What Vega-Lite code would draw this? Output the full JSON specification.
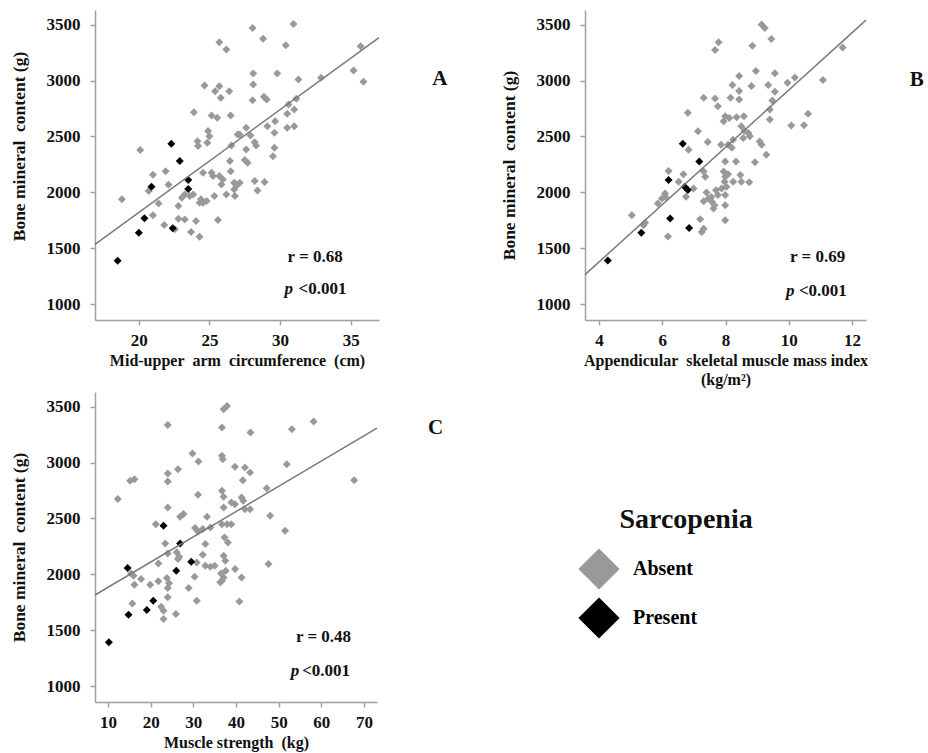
{
  "$schema": "https://vega.github.io/schema/vega-lite/v6.json",
  "padding": {"left": 10, "top": 10, "right": 0, "bottom": 5},
  "background": "white",
  "config": {
    "view": {"stroke": null},
    "font": "Liberation Serif",
    "axis": {"domainColor": "#a0a0a0", "tickColor": "#a0a0a0", "tickSize": 5, "grid": false, "domainWidth": 1.5, "tickWidth": 1.5,
      "labelFont": "Liberation Serif", "labelFontSize": 17, "labelFontWeight": "bold", "labelColor": "#111",
      "titleFont": "Liberation Serif", "titleFontSize": 16, "titleFontWeight": "bold", "titleColor": "#111", "format": "d"},
    "axisX": {"labelPadding": 7, "titlePadding": 4},
    "axisY": {"labelPadding": 10, "titlePadding": 18, "titleFontSize": 17.5},
    "point": {"shape": "diamond", "filled": true, "size": 64, "opacity": 1},
    "text": {"font": "Liberation Serif", "fontWeight": "bold", "fontSize": 17, "color": "#111", "baseline": "middle"}
  },
  "datasets": {
    "a": [
      {"x":18.8,"y":1938,"g":"Absent"},{"x":20.1,"y":2380,"g":"Absent"},{"x":20.7,"y":2012,"g":"Absent"},{"x":21.0,"y":2158,"g":"Absent"},{"x":21.0,"y":1795,"g":"Absent"},{"x":21.4,"y":1902,"g":"Absent"},{"x":21.8,"y":1708,"g":"Absent"},{"x":21.9,"y":2190,"g":"Absent"},{"x":22.1,"y":2068,"g":"Absent"},{"x":22.55,"y":1670,"g":"Absent"},{"x":22.8,"y":1878,"g":"Absent"},{"x":22.8,"y":1765,"g":"Absent"},{"x":23.25,"y":1759,"g":"Absent"},{"x":23.25,"y":1982,"g":"Absent"},{"x":23.05,"y":1952,"g":"Absent"},{"x":23.6,"y":1967,"g":"Absent"},{"x":23.85,"y":1982,"g":"Absent"},{"x":23.7,"y":1646,"g":"Absent"},{"x":23.9,"y":2717,"g":"Absent"},{"x":24.05,"y":1744,"g":"Absent"},{"x":24.15,"y":2458,"g":"Absent"},{"x":24.2,"y":2414,"g":"Absent"},{"x":24.3,"y":1604,"g":"Absent"},{"x":24.3,"y":1908,"g":"Absent"},{"x":24.4,"y":1938,"g":"Absent"},{"x":24.55,"y":1908,"g":"Absent"},{"x":24.55,"y":2176,"g":"Absent"},{"x":24.65,"y":2955,"g":"Absent"},{"x":24.8,"y":1923,"g":"Absent"},{"x":24.85,"y":2443,"g":"Absent"},{"x":24.9,"y":2548,"g":"Absent"},{"x":25.0,"y":2503,"g":"Absent"},{"x":25.15,"y":2688,"g":"Absent"},{"x":25.15,"y":2176,"g":"Absent"},{"x":25.25,"y":2146,"g":"Absent"},{"x":25.35,"y":1967,"g":"Absent"},{"x":25.4,"y":2905,"g":"Absent"},{"x":25.55,"y":2667,"g":"Absent"},{"x":25.6,"y":1753,"g":"Absent"},{"x":25.7,"y":3342,"g":"Absent"},{"x":25.7,"y":2949,"g":"Absent"},{"x":25.7,"y":2146,"g":"Absent"},{"x":25.8,"y":2845,"g":"Absent"},{"x":25.85,"y":2071,"g":"Absent"},{"x":25.95,"y":2116,"g":"Absent"},{"x":26.2,"y":3277,"g":"Absent"},{"x":26.2,"y":1982,"g":"Absent"},{"x":26.4,"y":2905,"g":"Absent"},{"x":26.45,"y":2280,"g":"Absent"},{"x":26.5,"y":2688,"g":"Absent"},{"x":26.5,"y":2190,"g":"Absent"},{"x":26.55,"y":2420,"g":"Absent"},{"x":26.75,"y":2086,"g":"Absent"},{"x":26.8,"y":1967,"g":"Absent"},{"x":26.9,"y":2057,"g":"Absent"},{"x":26.9,"y":2071,"g":"Absent"},{"x":26.75,"y":2027,"g":"Absent"},{"x":27.0,"y":2518,"g":"Absent"},{"x":27.15,"y":2086,"g":"Absent"},{"x":27.15,"y":2518,"g":"Absent"},{"x":27.5,"y":2289,"g":"Absent"},{"x":27.6,"y":2577,"g":"Absent"},{"x":27.6,"y":2384,"g":"Absent"},{"x":27.7,"y":2265,"g":"Absent"},{"x":27.9,"y":2509,"g":"Absent"},{"x":28.05,"y":3470,"g":"Absent"},{"x":28.1,"y":3063,"g":"Absent"},{"x":28.1,"y":2964,"g":"Absent"},{"x":28.05,"y":2824,"g":"Absent"},{"x":28.2,"y":2449,"g":"Absent"},{"x":28.2,"y":2101,"g":"Absent"},{"x":28.3,"y":2420,"g":"Absent"},{"x":28.4,"y":2018,"g":"Absent"},{"x":28.8,"y":3372,"g":"Absent"},{"x":28.85,"y":2854,"g":"Absent"},{"x":28.9,"y":2092,"g":"Absent"},{"x":29.05,"y":2830,"g":"Absent"},{"x":29.1,"y":2592,"g":"Absent"},{"x":29.5,"y":2324,"g":"Absent"},{"x":29.6,"y":2533,"g":"Absent"},{"x":29.6,"y":2399,"g":"Absent"},{"x":29.65,"y":2637,"g":"Absent"},{"x":29.8,"y":3063,"g":"Absent"},{"x":30.4,"y":3315,"g":"Absent"},{"x":30.5,"y":2702,"g":"Absent"},{"x":30.5,"y":2577,"g":"Absent"},{"x":30.6,"y":2786,"g":"Absent"},{"x":30.95,"y":3506,"g":"Absent"},{"x":31.0,"y":2741,"g":"Absent"},{"x":31.0,"y":2592,"g":"Absent"},{"x":31.15,"y":2836,"g":"Absent"},{"x":31.3,"y":3009,"g":"Absent"},{"x":32.9,"y":3024,"g":"Absent"},{"x":35.2,"y":3089,"g":"Absent"},{"x":35.7,"y":3307,"g":"Absent"},{"x":35.9,"y":2988,"g":"Absent"},
      {"x":18.5,"y":1390,"g":"Present"},{"x":20.0,"y":1640,"g":"Present"},{"x":20.4,"y":1770,"g":"Present"},{"x":20.9,"y":2050,"g":"Present"},{"x":22.3,"y":2435,"g":"Present"},{"x":22.4,"y":1680,"g":"Present"},{"x":22.9,"y":2280,"g":"Present"},{"x":23.5,"y":2110,"g":"Present"},{"x":23.5,"y":2030,"g":"Present"}
    ],
    "b": [
      {"x":5.04,"y":1796,"g":"Absent"},{"x":5.41,"y":1706,"g":"Absent"},{"x":5.46,"y":1730,"g":"Absent"},{"x":5.86,"y":1901,"g":"Absent"},{"x":5.99,"y":1946,"g":"Absent"},{"x":6.09,"y":1991,"g":"Absent"},{"x":6.1,"y":1960,"g":"Absent"},{"x":6.18,"y":1607,"g":"Absent"},{"x":6.2,"y":2192,"g":"Absent"},{"x":6.52,"y":2096,"g":"Absent"},{"x":6.67,"y":2162,"g":"Absent"},{"x":6.75,"y":1961,"g":"Absent"},{"x":6.81,"y":2711,"g":"Absent"},{"x":6.83,"y":2381,"g":"Absent"},{"x":6.99,"y":2036,"g":"Absent"},{"x":7.13,"y":2546,"g":"Absent"},{"x":7.2,"y":1760,"g":"Absent"},{"x":7.25,"y":1646,"g":"Absent"},{"x":7.31,"y":1676,"g":"Absent"},{"x":7.31,"y":2846,"g":"Absent"},{"x":7.31,"y":2186,"g":"Absent"},{"x":7.36,"y":2141,"g":"Absent"},{"x":7.31,"y":1922,"g":"Absent"},{"x":7.4,"y":2000,"g":"Absent"},{"x":7.44,"y":2450,"g":"Absent"},{"x":7.46,"y":1946,"g":"Absent"},{"x":7.55,"y":1960,"g":"Absent"},{"x":7.57,"y":1916,"g":"Absent"},{"x":7.62,"y":1856,"g":"Absent"},{"x":7.65,"y":1886,"g":"Absent"},{"x":7.67,"y":3272,"g":"Absent"},{"x":7.67,"y":2840,"g":"Absent"},{"x":7.7,"y":2020,"g":"Absent"},{"x":7.76,"y":2771,"g":"Absent"},{"x":7.76,"y":1976,"g":"Absent"},{"x":7.78,"y":3341,"g":"Absent"},{"x":7.86,"y":2426,"g":"Absent"},{"x":7.94,"y":2636,"g":"Absent"},{"x":7.94,"y":2186,"g":"Absent"},{"x":7.97,"y":2096,"g":"Absent"},{"x":7.99,"y":2681,"g":"Absent"},{"x":7.99,"y":2276,"g":"Absent"},{"x":7.99,"y":2141,"g":"Absent"},{"x":7.88,"y":2036,"g":"Absent"},{"x":7.99,"y":1886,"g":"Absent"},{"x":7.99,"y":1976,"g":"Absent"},{"x":7.99,"y":1751,"g":"Absent"},{"x":8.03,"y":2051,"g":"Absent"},{"x":8.08,"y":2162,"g":"Absent"},{"x":8.08,"y":2426,"g":"Absent"},{"x":8.12,"y":2666,"g":"Absent"},{"x":8.16,"y":2846,"g":"Absent"},{"x":8.2,"y":2400,"g":"Absent"},{"x":8.22,"y":2960,"g":"Absent"},{"x":8.24,"y":2471,"g":"Absent"},{"x":8.24,"y":2096,"g":"Absent"},{"x":8.33,"y":2276,"g":"Absent"},{"x":8.35,"y":2672,"g":"Absent"},{"x":8.43,"y":3041,"g":"Absent"},{"x":8.43,"y":2906,"g":"Absent"},{"x":8.43,"y":2831,"g":"Absent"},{"x":8.47,"y":2156,"g":"Absent"},{"x":8.5,"y":2591,"g":"Absent"},{"x":8.5,"y":2096,"g":"Absent"},{"x":8.56,"y":2486,"g":"Absent"},{"x":8.58,"y":2681,"g":"Absent"},{"x":8.6,"y":2550,"g":"Absent"},{"x":8.72,"y":2531,"g":"Absent"},{"x":8.75,"y":2090,"g":"Absent"},{"x":8.77,"y":2501,"g":"Absent"},{"x":8.82,"y":2951,"g":"Absent"},{"x":8.85,"y":3311,"g":"Absent"},{"x":8.93,"y":2270,"g":"Absent"},{"x":8.96,"y":3086,"g":"Absent"},{"x":9.08,"y":2456,"g":"Absent"},{"x":9.14,"y":2426,"g":"Absent"},{"x":9.14,"y":3500,"g":"Absent"},{"x":9.24,"y":3470,"g":"Absent"},{"x":9.29,"y":2336,"g":"Absent"},{"x":9.35,"y":2960,"g":"Absent"},{"x":9.4,"y":2741,"g":"Absent"},{"x":9.4,"y":2651,"g":"Absent"},{"x":9.45,"y":3371,"g":"Absent"},{"x":9.48,"y":2822,"g":"Absent"},{"x":9.56,"y":3065,"g":"Absent"},{"x":9.56,"y":2900,"g":"Absent"},{"x":9.96,"y":2981,"g":"Absent"},{"x":10.08,"y":2597,"g":"Absent"},{"x":10.19,"y":3026,"g":"Absent"},{"x":10.48,"y":2600,"g":"Absent"},{"x":10.61,"y":2702,"g":"Absent"},{"x":11.08,"y":3005,"g":"Absent"},{"x":11.7,"y":3296,"g":"Absent"},
      {"x":4.28,"y":1391,"g":"Present"},{"x":5.34,"y":1640,"g":"Present"},{"x":6.2,"y":2111,"g":"Present"},{"x":6.25,"y":1766,"g":"Present"},{"x":6.65,"y":2435,"g":"Present"},{"x":6.85,"y":1682,"g":"Present"},{"x":7.17,"y":2276,"g":"Present"},{"x":6.71,"y":2051,"g":"Present"},{"x":6.81,"y":2021,"g":"Present"}
    ],
    "c": [
      {"x":12.3,"y":2673,"g":"Absent"},{"x":15.2,"y":2836,"g":"Absent"},{"x":16.2,"y":2851,"g":"Absent"},{"x":15.4,"y":2009,"g":"Absent"},{"x":16.0,"y":1988,"g":"Absent"},{"x":15.7,"y":1741,"g":"Absent"},{"x":16.2,"y":1908,"g":"Absent"},{"x":17.75,"y":1958,"g":"Absent"},{"x":19.9,"y":1908,"g":"Absent"},{"x":21.2,"y":2449,"g":"Absent"},{"x":21.8,"y":2098,"g":"Absent"},{"x":21.8,"y":1938,"g":"Absent"},{"x":22.45,"y":1711,"g":"Absent"},{"x":23.0,"y":1676,"g":"Absent"},{"x":23.0,"y":1601,"g":"Absent"},{"x":23.4,"y":2277,"g":"Absent"},{"x":23.8,"y":1967,"g":"Absent"},{"x":24.0,"y":3336,"g":"Absent"},{"x":24.0,"y":2902,"g":"Absent"},{"x":24.0,"y":2830,"g":"Absent"},{"x":24.0,"y":2598,"g":"Absent"},{"x":24.0,"y":2188,"g":"Absent"},{"x":24.3,"y":1920,"g":"Absent"},{"x":24.0,"y":1878,"g":"Absent"},{"x":24.0,"y":1795,"g":"Absent"},{"x":25.9,"y":1646,"g":"Absent"},{"x":26.1,"y":2197,"g":"Absent"},{"x":26.4,"y":2137,"g":"Absent"},{"x":26.7,"y":2158,"g":"Absent"},{"x":26.4,"y":2940,"g":"Absent"},{"x":26.9,"y":2515,"g":"Absent"},{"x":27.7,"y":2539,"g":"Absent"},{"x":28.9,"y":1878,"g":"Absent"},{"x":29.8,"y":3080,"g":"Absent"},{"x":30.3,"y":1979,"g":"Absent"},{"x":30.4,"y":2414,"g":"Absent"},{"x":30.8,"y":2107,"g":"Absent"},{"x":30.8,"y":1765,"g":"Absent"},{"x":31.1,"y":2384,"g":"Absent"},{"x":31.1,"y":2711,"g":"Absent"},{"x":31.2,"y":3009,"g":"Absent"},{"x":32.2,"y":2405,"g":"Absent"},{"x":32.2,"y":2176,"g":"Absent"},{"x":32.8,"y":2271,"g":"Absent"},{"x":32.8,"y":2077,"g":"Absent"},{"x":33.2,"y":2515,"g":"Absent"},{"x":34.0,"y":2420,"g":"Absent"},{"x":34.0,"y":2069,"g":"Absent"},{"x":35.0,"y":2077,"g":"Absent"},{"x":36.3,"y":1929,"g":"Absent"},{"x":36.5,"y":2009,"g":"Absent"},{"x":36.7,"y":1944,"g":"Absent"},{"x":36.7,"y":3312,"g":"Absent"},{"x":36.7,"y":3060,"g":"Absent"},{"x":36.9,"y":3030,"g":"Absent"},{"x":36.7,"y":2747,"g":"Absent"},{"x":36.7,"y":2449,"g":"Absent"},{"x":37.1,"y":2693,"g":"Absent"},{"x":37.1,"y":2598,"g":"Absent"},{"x":37.1,"y":3476,"g":"Absent"},{"x":37.1,"y":2167,"g":"Absent"},{"x":37.1,"y":1973,"g":"Absent"},{"x":37.3,"y":2330,"g":"Absent"},{"x":37.5,"y":2122,"g":"Absent"},{"x":37.6,"y":2033,"g":"Absent"},{"x":37.9,"y":3506,"g":"Absent"},{"x":37.9,"y":2449,"g":"Absent"},{"x":38.1,"y":2286,"g":"Absent"},{"x":38.9,"y":2643,"g":"Absent"},{"x":38.9,"y":2449,"g":"Absent"},{"x":39.75,"y":2961,"g":"Absent"},{"x":39.75,"y":2628,"g":"Absent"},{"x":39.8,"y":2048,"g":"Absent"},{"x":40.8,"y":1759,"g":"Absent"},{"x":41.3,"y":2688,"g":"Absent"},{"x":41.3,"y":1973,"g":"Absent"},{"x":41.6,"y":2842,"g":"Absent"},{"x":41.7,"y":2658,"g":"Absent"},{"x":42.1,"y":2955,"g":"Absent"},{"x":42.1,"y":2583,"g":"Absent"},{"x":43.3,"y":2911,"g":"Absent"},{"x":43.3,"y":2583,"g":"Absent"},{"x":43.4,"y":3268,"g":"Absent"},{"x":47.2,"y":2771,"g":"Absent"},{"x":47.6,"y":2092,"g":"Absent"},{"x":48.0,"y":2524,"g":"Absent"},{"x":51.5,"y":2390,"g":"Absent"},{"x":51.9,"y":2985,"g":"Absent"},{"x":53.1,"y":3298,"g":"Absent"},{"x":58.2,"y":3366,"g":"Absent"},{"x":67.7,"y":2842,"g":"Absent"},
      {"x":10.2,"y":1393,"g":"Present"},{"x":14.6,"y":2057,"g":"Present"},{"x":14.8,"y":1640,"g":"Present"},{"x":19.1,"y":1682,"g":"Present"},{"x":20.6,"y":1765,"g":"Present"},{"x":23.0,"y":2435,"g":"Present"},{"x":26.0,"y":2033,"g":"Present"},{"x":26.9,"y":2277,"g":"Present"},{"x":29.5,"y":2113,"g":"Present"}
    ],
    "la": [{"x":16.9,"y":1536},{"x":37.0,"y":3384}],
    "lb": [{"x":3.56,"y":1265},{"x":12.44,"y":3540}],
    "lc": [{"x":6.95,"y":1816},{"x":73.05,"y":3307}],
    "one": [{}]
  },
  "concat": [
    {
      "width": 284, "height": 310,
      "layer": [
        {"data": {"name": "a"}, "mark": "point",
         "encoding": {
           "x": {"field": "x", "type": "quantitative", "scale": {"domain": [16.9, 37], "nice": false, "zero": false}, "axis": {"values": [20, 25, 30, 35], "title": "Mid-upper\u00a0 arm\u00a0 circumference\u00a0 (cm)"}},
           "y": {"field": "y", "type": "quantitative", "scale": {"domain": [860, 3630], "nice": false, "zero": false}, "axis": {"values": [1000, 1500, 2000, 2500, 3000, 3500], "title": "Bone mineral\u00a0 content (g)", "titleY": 136}},
           "color": {"field": "g", "type": "nominal", "scale": {"domain": ["Absent", "Present"], "range": ["#999999", "#000000"]},
             "legend": {"title": null, "orient": "none", "legendX": 483, "legendY": 538, "symbolType": "diamond", "symbolSize": 1700, "symbolStrokeWidth": 0, "symbolOpacity": 1, "labelFont": "Liberation Serif", "labelFontSize": 20, "labelFontWeight": "bold", "labelColor": "#000", "labelOffset": 13, "rowPadding": 7}}
         }},
        {"data": {"name": "la"}, "mark": {"type": "line", "color": "#7a7a7a", "strokeWidth": 1.5},
         "encoding": {"x": {"field": "x", "type": "quantitative"}, "y": {"field": "y", "type": "quantitative"}}},
        {"data": {"name": "one"}, "mark": {"type": "text", "text": "A", "fontSize": 21, "align": "center"}, "encoding": {"x": {"datum": 41.3}, "y": {"datum": 3009}}},
        {"data": {"name": "one"}, "mark": {"type": "text", "text": "r = 0.68", "align": "left"}, "encoding": {"x": {"datum": 30.53}, "y": {"datum": 1419}}},
        {"data": {"name": "one"}, "mark": {"type": "text", "text": "p", "align": "left", "fontStyle": "italic"}, "encoding": {"x": {"datum": 30.32}, "y": {"datum": 1134}}},
        {"data": {"name": "one"}, "mark": {"type": "text", "text": "<0.001", "align": "left"}, "encoding": {"x": {"datum": 31.31}, "y": {"datum": 1134}}}
      ]
    },
    {
      "width": 281, "height": 310,
      "layer": [
        {"data": {"name": "b"}, "mark": "point",
         "encoding": {
           "x": {"field": "x", "type": "quantitative", "scale": {"domain": [3.56, 12.44], "nice": false, "zero": false}, "axis": {"values": [4, 6, 8, 10, 12], "title": ["Appendicular\u00a0 skeletal muscle mass index", "(kg/m²)"], "titleLineHeight": 19}},
           "y": {"field": "y", "type": "quantitative", "scale": {"domain": [860, 3630], "nice": false, "zero": false}, "axis": {"values": [1000, 1500, 2000, 2500, 3000, 3500], "title": "Bone mineral\u00a0 content (g)"}},
           "color": {"field": "g", "type": "nominal", "scale": {"domain": ["Absent", "Present"], "range": ["#999999", "#000000"]},
             "legend": {"title": null, "orient": "none", "legendX": 483, "legendY": 538, "symbolType": "diamond", "symbolSize": 1700, "symbolStrokeWidth": 0, "symbolOpacity": 1, "labelFont": "Liberation Serif", "labelFontSize": 20, "labelFontWeight": "bold", "labelColor": "#000", "labelOffset": 13, "rowPadding": 7}}
         }},
        {"data": {"name": "lb"}, "mark": {"type": "line", "color": "#7a7a7a", "strokeWidth": 1.5},
         "encoding": {"x": {"field": "x", "type": "quantitative"}, "y": {"field": "y", "type": "quantitative"}}},
        {"data": {"name": "one"}, "mark": {"type": "text", "text": "B", "fontSize": 21, "align": "center"}, "encoding": {"x": {"datum": 14.04}, "y": {"datum": 3008}}},
        {"data": {"name": "one"}, "mark": {"type": "text", "text": "r = 0.69", "align": "left"}, "encoding": {"x": {"datum": 10.04}, "y": {"datum": 1424}}},
        {"data": {"name": "one"}, "mark": {"type": "text", "text": "p", "align": "left", "fontStyle": "italic"}, "encoding": {"x": {"datum": 9.91}, "y": {"datum": 1118}}},
        {"data": {"name": "one"}, "mark": {"type": "text", "text": "<0.001", "align": "left"}, "encoding": {"x": {"datum": 10.32}, "y": {"datum": 1118}}}
      ]
    },
    {
      "width": 282, "height": 310,
      "layer": [
        {"data": {"name": "c"}, "mark": "point",
         "encoding": {
           "x": {"field": "x", "type": "quantitative", "scale": {"domain": [6.95, 73.05], "nice": false, "zero": false}, "axis": {"values": [10, 20, 30, 40, 50, 60, 70], "title": "Muscle strength\u00a0 (kg)"}},
           "y": {"field": "y", "type": "quantitative", "scale": {"domain": [860, 3630], "nice": false, "zero": false}, "axis": {"values": [1000, 1500, 2000, 2500, 3000, 3500], "title": "Bone mineral\u00a0 content (g)"}},
           "color": {"field": "g", "type": "nominal", "scale": {"domain": ["Absent", "Present"], "range": ["#999999", "#000000"]},
             "legend": {"title": null, "orient": "none", "legendX": 483, "legendY": 538, "symbolType": "diamond", "symbolSize": 1700, "symbolStrokeWidth": 0, "symbolOpacity": 1, "labelFont": "Liberation Serif", "labelFontSize": 20, "labelFontWeight": "bold", "labelColor": "#000", "labelOffset": 13, "rowPadding": 7}}
         }},
        {"data": {"name": "lc"}, "mark": {"type": "line", "color": "#7a7a7a", "strokeWidth": 1.5},
         "encoding": {"x": {"field": "x", "type": "quantitative"}, "y": {"field": "y", "type": "quantitative"}}},
        {"data": {"name": "one"}, "mark": {"type": "text", "text": "C", "fontSize": 21, "align": "center"}, "encoding": {"x": {"datum": 86.76}, "y": {"datum": 3310}}},
        {"data": {"name": "one"}, "mark": {"type": "text", "text": "r = 0.48", "align": "left"}, "encoding": {"x": {"datum": 54.05}, "y": {"datum": 1437}}},
        {"data": {"name": "one"}, "mark": {"type": "text", "text": "p", "align": "left", "fontStyle": "italic"}, "encoding": {"x": {"datum": 52.82}, "y": {"datum": 1140}}},
        {"data": {"name": "one"}, "mark": {"type": "text", "text": "<0.001", "align": "left"}, "encoding": {"x": {"datum": 55.5}, "y": {"datum": 1140}}},
        {"data": {"name": "one"}, "mark": {"type": "text", "text": "Sarcopenia", "fontSize": 28, "align": "center"}, "encoding": {"x": {"datum": 145.5}, "y": {"datum": 2490}}}
      ]
    }
  ],
  "columns": 2,
  "spacing": {"row": 72, "column": 206},
  "bounds": "flush"
}
